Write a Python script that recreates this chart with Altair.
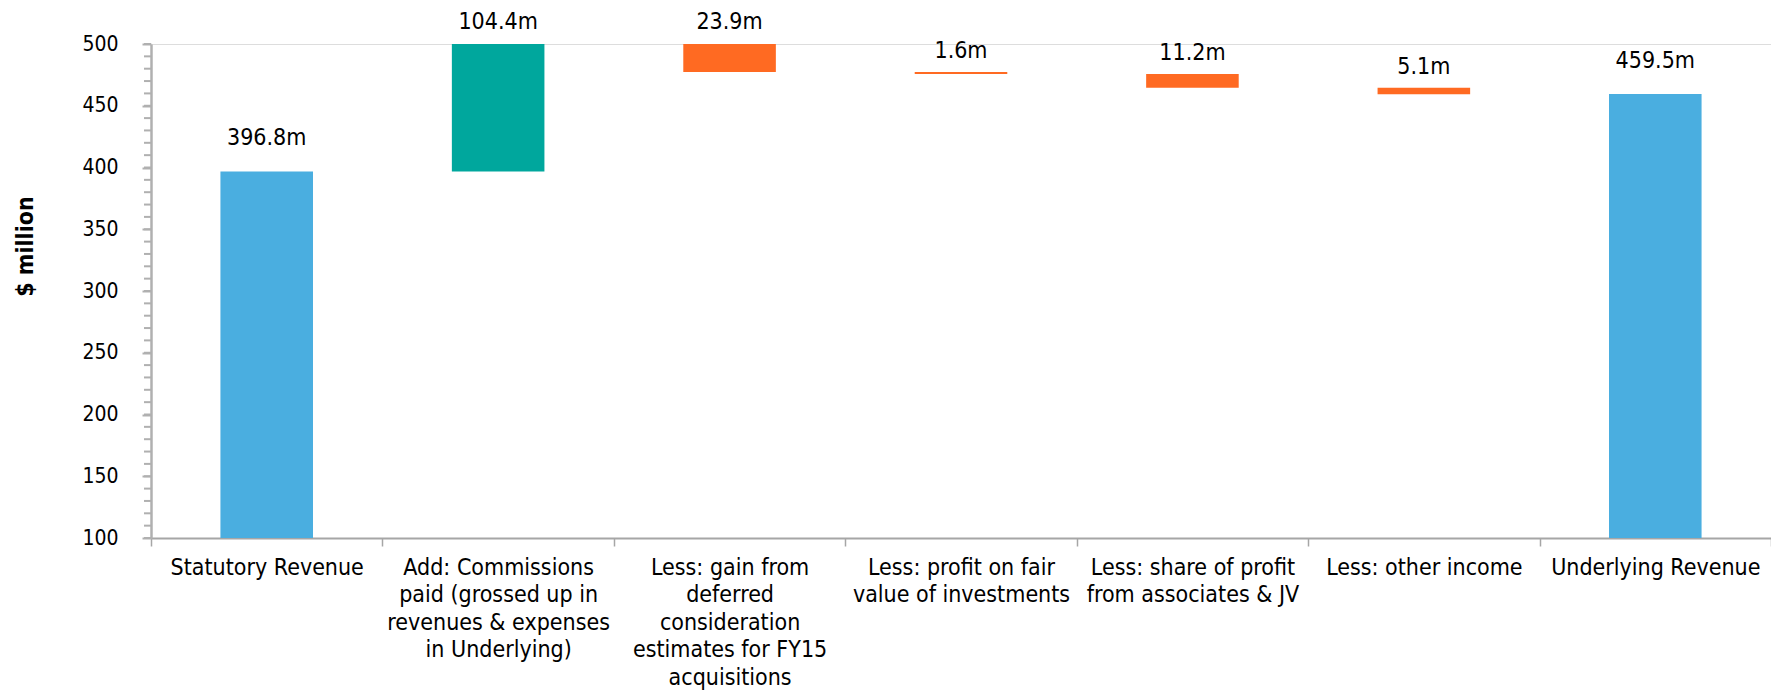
import altair as alt
import pandas as pd

categories = [
    "Statutory Revenue",
    "Add: Commissions|paid (grossed up in|revenues & expenses|in Underlying)",
    "Less: gain from|deferred|consideration|estimates for FY15|acquisitions",
    "Less: profit on fair|value of investments",
    "Less: share of profit|from associates & JV",
    "Less: other income",
    "Underlying Revenue",
]
amounts = [396.8, 104.4, 23.9, 1.6, 11.2, 5.1, 459.5]
kinds = ["total", "increase", "decrease", "decrease", "decrease", "decrease", "total"]
y_ticks = [100, 150, 200, 250, 300, 350, 400, 450, 500]
minor_ticks = list(range(100, 501, 10))

rows = []
running = 0.0
for c, a, k in zip(categories, amounts, kinds):
    if k == "total":
        s, e = 0.0, a
        running = a
    elif k == "increase":
        s, e = running, running + a
        running = e
    else:
        s, e = running, running - a
        running = e
    rows.append({"cat": c, "start": s, "end": e, "top": max(s, e), "kind": k,
                 "label": f"{a}m"})
df = pd.DataFrame(rows)
minor_df = pd.DataFrame({"v": minor_ticks})

FONT = "DejaVu Sans Condensed, DejaVu Sans"

xaxis = alt.Axis(
    title=None, labelAngle=0, labelExpr="split(datum.label, '|')",
    labelFont=FONT, labelFontSize=23, labelColor="#000000",
    labelLineHeight=27.5, labelPadding=10, labelLimit=0, labelOverlap=False,
    labelAlign="center", labelBaseline="top",
    tickBand="extent", tickSize=8, tickColor="#a6a6a6", tickWidth=1.5,
    domainColor="#a6a6a6", domainWidth=2,
)
yaxis = alt.Axis(
    values=y_ticks, title="$ million", grid=False,
    labelFont=FONT, labelFontSize=21, labelColor="#000000", labelPadding=24,
    tickSize=9, tickColor="#b0b0b0", tickWidth=2,
    domainColor="#b0b0b0", domainWidth=2.5,
    titleFont=FONT, titleFontSize=23, titleFontWeight="bold", titleColor="#000000",
    titleAngle=270, titleX=-126, titleY=202, titleAlign="center",
    titleBaseline="middle",
)
xscale = alt.Scale(paddingInner=0, paddingOuter=0)
yscale = alt.Scale(domain=[100, 500], nice=False, zero=False)

bars = alt.Chart(df).mark_bar(clip=True, width=alt.RelativeBandSize(0.4)).encode(
    x=alt.X("cat:N", sort=categories, scale=xscale, axis=xaxis),
    y=alt.Y("start:Q", scale=yscale, axis=yaxis),
    y2="end:Q",
    color=alt.Color("kind:N", legend=None, scale=alt.Scale(
        domain=["total", "increase", "decrease"],
        range=["#4AAEE0", "#00A79D", "#FF6A22"])),
)

minor = alt.Chart(minor_df).mark_rule(color="#b0b0b0", strokeWidth=2).encode(
    y=alt.Y("v:Q", scale=yscale, axis=yaxis),
    x=alt.value(-7), x2=alt.value(0),
)

tot_labels = alt.Chart(df).transform_filter("datum.kind == 'total'").mark_text(
    font=FONT, fontSize=23, color="#000000", baseline="middle", dy=-33
).encode(x=alt.X("cat:N", sort=categories, scale=xscale, axis=xaxis),
         y=alt.Y("top:Q", scale=yscale, axis=yaxis), text="label:N")

delta_labels = alt.Chart(df).transform_filter("datum.kind != 'total'").mark_text(
    font=FONT, fontSize=23, color="#000000", baseline="middle", dy=-21
).encode(x=alt.X("cat:N", sort=categories, scale=xscale, axis=xaxis),
         y=alt.Y("top:Q", scale=yscale, axis=yaxis), text="label:N")

chart = alt.layer(bars, minor, tot_labels, delta_labels).properties(
    width=1620, height=494,
    autosize=alt.AutoSizeParams(type="none"),
    padding={"left": 143, "top": 36, "right": 0, "bottom": 152},
).configure_view(stroke=None).configure(background="#ffffff")

chart.save("out.html", embed_options={"renderer": "svg", "actions": False})
